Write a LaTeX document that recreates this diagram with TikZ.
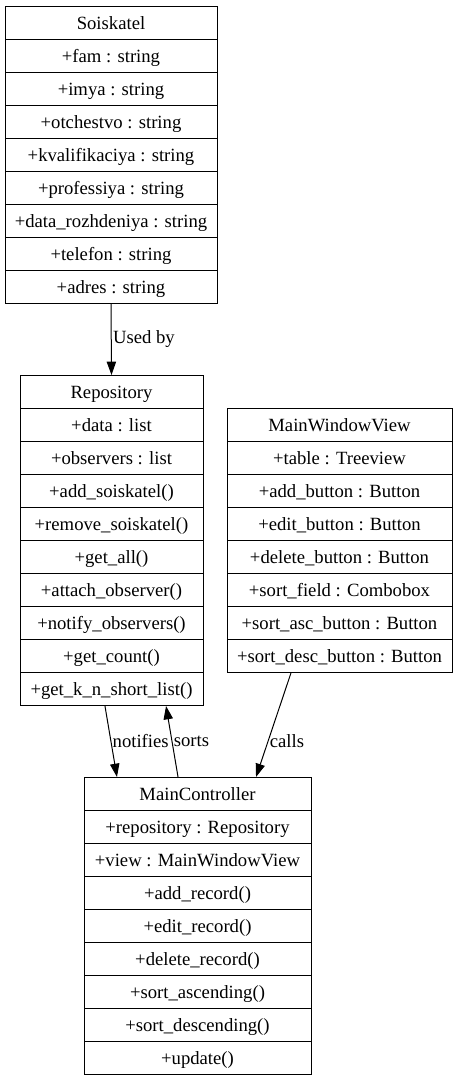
\documentclass[tikz,border=0pt]{standalone}
\usepackage{fontspec}
\setmainfont{Liberation Serif}
\usetikzlibrary{arrows.meta}
\tikzset{>={Triangle[length=10pt,width=7pt]}}

\begin{document}
\begin{tikzpicture}[x=0.75pt, y=-0.75pt,
                    field/.style={draw, line width=0.75pt, inner sep=0pt, anchor=north,
                                  minimum height=24.75pt, text height=11pt, text depth=1.5pt,
                                  font=\fontsize{14}{16}\selectfont},
                    link/.style={->, line width=0.75pt},
                    lbl/.style={right, inner sep=1pt, font=\fontsize{14}{16}\selectfont},
                   ]

\useasboundingbox (0,0) rectangle (457,1081);

% Soiskatel
\foreach \t [count=\i] in {Soiskatel, +fam : string, +imya : string, +otchestvo : string,
    +kvalifikaciya : string, +professiya : string, +data\_rozhdeniya : string,
    +telefon : string, +adres : string}
  \node[field, minimum width=159pt] (sois\i) at (111,{6+33*(\i-1)}) {\t};

% Repository
\foreach \t [count=\i] in {Repository, +data : list, +observers : list, +add\_soiskatel(),
    +remove\_soiskatel(), +get\_all(), +attach\_observer(), +notify\_observers(),
    +get\_count(), +get\_k\_n\_short\_list()}
  \node[field, minimum width=137.25pt] (repo\i) at (111.5,{375+33*(\i-1)}) {\t};

% MainWindowView
\foreach \t [count=\i] in {MainWindowView, +table : Treeview, +add\_button : Button,
    +edit\_button : Button, +delete\_button : Button, +sort\_field : Combobox,
    +sort\_asc\_button : Button, +sort\_desc\_button : Button}
  \node[field, minimum width=168.75pt] (view\i) at (339.5,{408+33*(\i-1)}) {\t};

% MainController
\foreach \t [count=\i] in {MainController, +repository : Repository, +view : MainWindowView,
    +add\_record(), +edit\_record(), +delete\_record(), +sort\_ascending(),
    +sort\_descending(), +update()}
  \node[field, minimum width=170.25pt] (ctrl\i) at (197.5,{777+33*(\i-1)}) {\t};

\draw[link] (sois9.south) -- (repo1.north) node[lbl, midway] {Used by};
\draw[link] ([xshift=-4.9pt]repo10.south) -- ([xshift=-60.4pt]ctrl1.north) node[lbl, pos=0.49] {notifies};
\draw[link] ([xshift=-14.6pt]ctrl1.north) -- ([xshift=40.9pt]repo10.south) node[lbl, pos=0.507] {sorts};
\draw[link] ([xshift=-36.4pt]view8.south) -- ([xshift=43.9pt]ctrl1.north) node[lbl, pos=0.657] {calls};

\end{tikzpicture}
\end{document}
